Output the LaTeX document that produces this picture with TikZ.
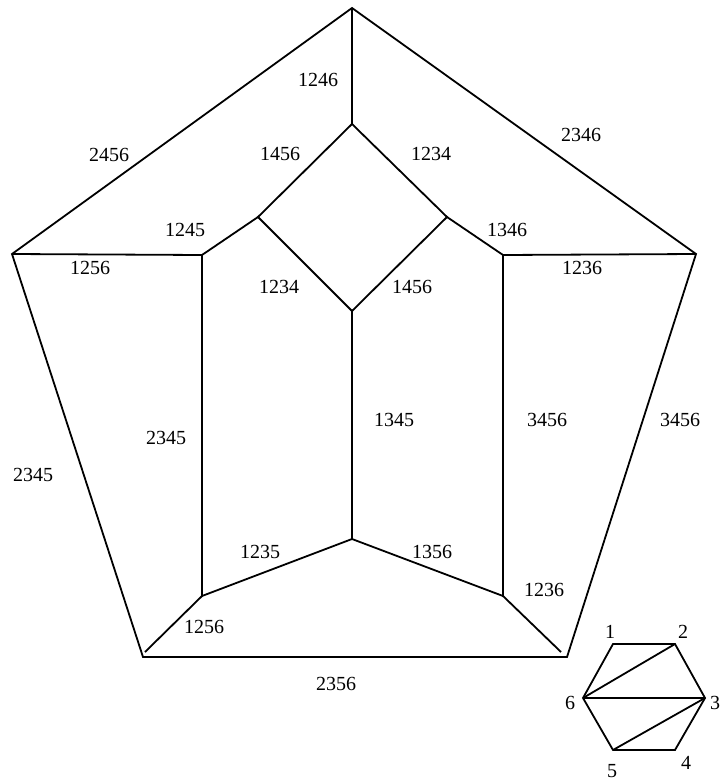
\documentclass[tikz,border=0pt]{standalone}
\usepackage{fontspec}
\setmainfont{Liberation Serif}
\usetikzlibrary{positioning}

\begin{document}
\begin{tikzpicture}[x=0.5pt,y=-0.5pt,
  edge/.style={line width=0.9pt,line join=miter},
  lbl/.style={inner sep=0pt,font=\fontsize{10}{12}\selectfont}]
  \useasboundingbox (0,0) rectangle (719,781);
  % outer pentagon
  \coordinate (T) at (352,8);
  \coordinate (L) at (12,254);
  \coordinate (R) at (696,254);
  \coordinate (BL) at (143,657);
  \coordinate (BR) at (567,657);
  % diamond and inner frame
  \coordinate (dt) at (352,124);
  \coordinate (dl) at (258,217);
  \coordinate (dr) at (447,217);
  \coordinate (db) at (352,311);
  \coordinate (il) at (202,255);
  \coordinate (ir) at (503,255);
  \coordinate (ilb) at (202,596);
  \coordinate (irb) at (503,596);
  \coordinate (c) at (352,539);
  \coordinate (el) at (145,652);
  \coordinate (er) at (561,652);
  \draw[edge] (T) -- (R) -- (BR) -- (BL) -- (L) -- cycle;
  \draw[edge] (dt) -- (dr) -- (db) -- (dl) -- cycle;
  \draw[edge] (T) -- (dt);
  \draw[edge] (L) -- (il) -- (dl);
  \draw[edge] (R) -- (ir) -- (dr);
  \draw[edge] (il) -- (ilb) -- (el);
  \draw[edge] (ir) -- (irb) -- (er);
  \draw[edge] (ilb) -- (c) -- (irb);
  \draw[edge] (db) -- (c);
  % edge labels
  \node[lbl] (l1246) at (318,80) {1246};
  \node[lbl] (l2456) at (109,155) {2456};
  \node[lbl] (l2346) at (581,135) {2346};
  \node[lbl] (l1456a) at (280,154) {1456};
  \node[lbl] (l1234a) at (431,154) {1234};
  \node[lbl] (l1245) at (185,230) {1245};
  \node[lbl] (l1346) at (507,230) {1346};
  \node[lbl] (l1256a) at (90,268) {1256};
  \node[lbl] (l1236a) at (582,268) {1236};
  \node[lbl] (l1234b) at (279,287) {1234};
  \node[lbl] (l1456b) at (412,287) {1456};
  \node[lbl] (l2345a) at (166,438) {2345};
  \node[lbl] (l2345b) at (33,475) {2345};
  \node[lbl] (l1345) at (394,420) {1345};
  \node[lbl] (l3456a) at (547,420) {3456};
  \node[lbl] (l3456b) at (680,420) {3456};
  \node[lbl] (l1235) at (260,552) {1235};
  \node[lbl] (l1356) at (432,552) {1356};
  \node[lbl] (l1236b) at (544,590) {1236};
  \node[lbl] (l1256b) at (204,627) {1256};
  \node[lbl] (l2356) at (336,684) {2356};
  % small hexagon
  \coordinate (h1) at (613,644);
  \coordinate (h2) at (675,644);
  \coordinate (h3) at (705,698);
  \coordinate (h4) at (675,750);
  \coordinate (h5) at (613,750);
  \coordinate (h6) at (583,698);
  \draw[edge] (h1) -- (h2) -- (h3) -- (h4) -- (h5) -- (h6) -- cycle;
  \draw[edge] (h6) -- (h2);
  \draw[edge] (h6) -- (h3);
  \draw[edge] (h5) -- (h3);
  \node[lbl] (n1) at (610,632) {1};
  \node[lbl] (n2) at (683,632) {2};
  \node[lbl] (n3) at (715,703) {3};
  \node[lbl] (n4) at (686,763) {4};
  \node[lbl] (n5) at (612,771) {5};
  \node[lbl] (n6) at (570,703) {6};
\end{tikzpicture}
\end{document}
